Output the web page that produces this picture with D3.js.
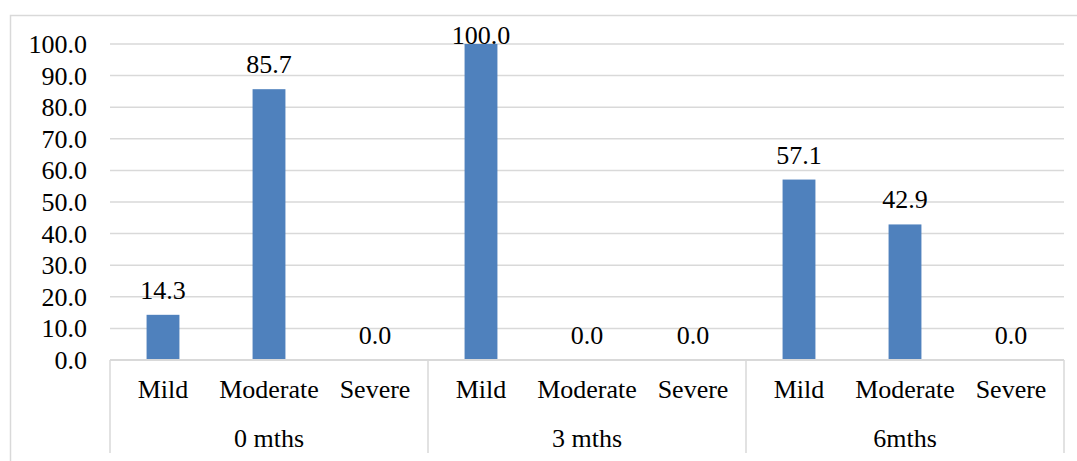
<!DOCTYPE html>
<html>
<head>
<meta charset="utf-8">
<script src="https://cdn.jsdelivr.net/npm/d3@7"></script>
<style>
  body { margin: 0; background: #fff; }
</style>
</head>
<body>
<div id="chart"></div>
<script>
// data
var groups = ["0 mths", "3 mths", "6mths"];
var levels = ["Mild", "Moderate", "Severe"];
var values0 = [14.3, 85.7, 0.0];
var values3 = [100.0, 0.0, 0.0];
var values6 = [57.1, 42.9, 0.0];
var yTicks = [0, 10, 20, 30, 40, 50, 60, 70, 80, 90, 100];

var FONT = "'Liberation Serif', 'Times New Roman', Tinos, 'DejaVu Serif', serif";
var FSIZE = "26px";

var W = 1077, H = 461;
var margin = {top: 44, right: 13, bottom: 101, left: 110};
var width = W - margin.left - margin.right,
    height = H - margin.top - margin.bottom;

var svg = d3.select("#chart")
  .append("svg")
    .attr("width", W)
    .attr("height", H)
    .style("font-family", FONT);

// chart area border
svg.append("rect")
  .attr("x", 10.5).attr("y", 15.5)
  .attr("width", W + 10).attr("height", H + 10)
  .attr("fill", "none")
  .attr("stroke", "#d9d9d9")
  .attr("stroke-width", 1.5);

var g = svg.append("g")
  .attr("transform", "translate(" + margin.left + "," + margin.top + ")");

var allValues = [values0, values3, values6];
var rows = [];
groups.forEach(function(grp, i) {
  levels.forEach(function(lv, j) {
    rows.push({group: grp, level: lv, value: allValues[i][j]});
  });
});

var x0 = d3.scaleBand().domain(groups).range([0, width]);
var x1 = d3.scaleBand().domain(levels).range([0, x0.bandwidth()]).paddingInner(0.69).paddingOuter(0.345);
var y = d3.scaleLinear().domain([0, 100]).range([height, 0]);

// gridlines
g.selectAll(".grid")
  .data(yTicks.slice(1))
  .enter()
  .append("line")
    .attr("x1", 0).attr("x2", width)
    .attr("y1", function(d) { return y(d); })
    .attr("y2", function(d) { return y(d); })
    .attr("stroke", "#d9d9d9")
    .attr("stroke-width", 1.5);

// y axis labels
var yAxis = d3.axisLeft(y).tickValues(yTicks).tickSize(0).tickPadding(23)
  .tickFormat(d3.format(".1f"));
var ya = g.append("g").call(yAxis)
  .attr("font-family", null)
  .attr("font-size", null);
ya.select(".domain").remove();
ya.selectAll("text")
  .attr("fill", "#000")
  .style("font-family", FONT)
  .style("font-size", FSIZE)
  .attr("dy", "0.33em");

// bars
g.selectAll(".bar")
  .data(rows)
  .enter()
  .append("rect")
    .attr("class", "bar")
    .attr("x", function(d) { return x0(d.group) + x1(d.level); })
    .attr("width", x1.bandwidth())
    .attr("y", function(d) { return y(d.value); })
    .attr("height", function(d) { return height - y(d.value); })
    .attr("fill", "#4f81bd");

// value labels
g.selectAll(".lbl")
  .data(rows)
  .enter()
  .append("text")
    .attr("x", function(d) { return x0(d.group) + x1(d.level) + x1.bandwidth() / 2; })
    .attr("y", function(d) { return Math.max(y(d.value) - 16, 0); })
    .attr("text-anchor", "middle")
    .style("font-family", FONT)
    .style("font-size", FSIZE)
    .text(function(d) { return d3.format(".1f")(d.value); });

// category axis baseline
g.append("line")
  .attr("x1", 0).attr("x2", width)
  .attr("y1", height).attr("y2", height)
  .attr("stroke", "#d9d9d9")
  .attr("stroke-width", 2);

// group separators
var seps = groups.map(function(d) { return x0(d); }).concat([width]);
g.selectAll(".sep")
  .data(seps)
  .enter()
  .append("line")
    .attr("x1", function(d) { return d; })
    .attr("x2", function(d) { return d; })
    .attr("y1", height).attr("y2", height + 93)
    .attr("stroke", "#d9d9d9")
    .attr("stroke-width", 1.5);

// level labels
g.selectAll(".lv")
  .data(rows)
  .enter()
  .append("text")
    .attr("x", function(d) { return x0(d.group) + x1(d.level) + x1.bandwidth() / 2; })
    .attr("y", height + 38)
    .attr("text-anchor", "middle")
    .style("font-family", FONT)
    .style("font-size", FSIZE)
    .text(function(d) { return d.level; });

// group labels
g.selectAll(".grp")
  .data(groups)
  .enter()
  .append("text")
    .attr("x", function(d) { return x0(d) + x0.bandwidth() / 2; })
    .attr("y", height + 87)
    .attr("text-anchor", "middle")
    .style("font-family", FONT)
    .style("font-size", FSIZE)
    .text(function(d) { return d; });
</script>
</body>
</html>
